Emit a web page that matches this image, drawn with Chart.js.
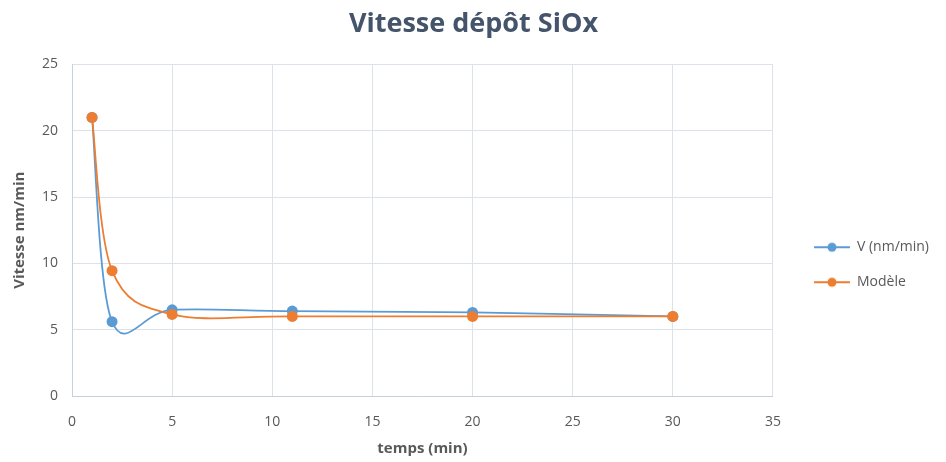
<!DOCTYPE html>
<html>
<head>
<meta charset="utf-8">
<script src="https://cdn.jsdelivr.net/npm/chart.js@4.4.1/dist/chart.umd.min.js"></script>
<style>
  html, body { margin: 0; padding: 0; background: #fff; }
  #wrap { width: 946px; height: 462px; position: relative; }
</style>
</head>
<body>
<div id="wrap"><canvas id="mainChart"></canvas></div>
<script>
const temps = [1, 2, 5, 11, 20, 30];
const vitesse = [21, 5.6, 6.5, 6.4, 6.3, 6.0];
const modele = [21, 9.45, 6.15, 6.0, 6.0, 6.0];
const xTicks = [0, 5, 10, 15, 20, 25, 30, 35];
const yTicks = [0, 5, 10, 15, 20, 25];

const BLUE = '#5b9bd5';
const ORANGE = '#ed7d31';
const TEXT = '#595959';
const GRID = '#dde2ea';

// line + dot like the Excel legend marker, with some blank space in front
const LEAD = 20;
function legendMarker(color) {
  const c = document.createElement('canvas');
  c.width = LEAD + 36; c.height = 12;
  const g = c.getContext('2d');
  g.strokeStyle = color;
  g.lineWidth = 2;
  g.beginPath(); g.moveTo(LEAD, 6); g.lineTo(LEAD + 36, 6); g.stroke();
  g.fillStyle = color;
  g.beginPath(); g.arc(LEAD + 18, 6, 4.5, 0, Math.PI * 2); g.fill();
  return c;
}

// Excel "smoothed line": Catmull-Rom style control points (1/6 of neighbour span)
const excelSmooth = {
  id: 'excelSmooth',
  beforeDatasetsDraw(chart) {
    chart.data.datasets.forEach((ds, i) => {
      const meta = chart.getDatasetMeta(i);
      meta.dataset.updateControlPoints(chart.chartArea, 'x');
      const pts = meta.data;
      pts.forEach((p, k) => {
        const prev = pts[k - 1] || p;
        const next = pts[k + 1] || p;
        const dx = (next.x - prev.x) / 6;
        const dy = (next.y - prev.y) / 6;
        p.cp1x = p.x - dx; p.cp1y = p.y - dy;
        p.cp2x = p.x + dx; p.cp2y = p.y + dy;
      });
    });
  }
};

const toPoints = ys => temps.map((t, i) => ({ x: t, y: ys[i] }));

const ctx = document.getElementById('mainChart').getContext('2d');
new Chart(ctx, {
  type: 'line',
  data: {
    datasets: [
      {
        label: 'V (nm/min)',
        data: toPoints(vitesse),
        borderColor: BLUE,
        backgroundColor: BLUE,
        borderWidth: 1.8,
        pointRadius: 5.5,
        pointBorderWidth: 0,
        tension: 0.3,
        order: 1,
        fill: false
      },
      {
        label: 'Modèle',
        data: toPoints(modele),
        borderColor: ORANGE,
        backgroundColor: ORANGE,
        borderWidth: 1.8,
        pointRadius: 5.5,
        pointBorderWidth: 0,
        tension: 0.3,
        order: 0,
        fill: false
      }
    ]
  },
  plugins: [excelSmooth],
  options: {
    responsive: true,
    maintainAspectRatio: false,
    animation: false,
    layout: { padding: { left: 8, right: 7, top: 0, bottom: 4 } },
    plugins: {
      title: {
        display: true,
        text: 'Vitesse dépôt SiOx',
        color: '#44546a',
        font: { family: 'Open Sans', size: 27, weight: 'bold' },
        padding: { top: 8, bottom: 24 }
      },
      legend: {
        position: 'right',
        align: 'center',
        title: { display: true, text: ' ', padding: { top: 0, bottom: 57 } },
        labels: {
          usePointStyle: true,
          pointStyleWidth: LEAD + 36,
          padding: 21,
          color: TEXT,
          font: { family: 'Open Sans', size: 14 },
          generateLabels: chart => chart.data.datasets.map((ds, i) => ({
            text: ds.label,
            pointStyle: legendMarker(ds.borderColor),
            fillStyle: ds.borderColor,
            strokeStyle: ds.borderColor,
            lineWidth: 0,
            hidden: false,
            datasetIndex: i,
            fontColor: TEXT
          }))
        }
      },
      tooltip: { enabled: false }
    },
    scales: {
      x: {
        type: 'linear',
        min: 0,
        max: 35,
        afterBuildTicks: axis => { axis.ticks = xTicks.map(v => ({ value: v })); },
        afterFit: axis => { axis.height = 62; },
        grid: { color: GRID, drawTicks: false },
        border: { color: '#c8d0dc' },
        ticks: { color: TEXT, padding: 18, font: { family: 'Open Sans', size: 14 } },
        title: {
          display: true,
          text: 'temps (min)',
          color: TEXT,
          font: { family: 'Open Sans', size: 15, weight: 'bold' },
          padding: { top: 0, bottom: 0 }
        }
      },
      y: {
        min: 0,
        max: 25,
        afterBuildTicks: axis => { axis.ticks = yTicks.map(v => ({ value: v })); },
        afterFit: axis => { axis.width = 64; },
        grid: { color: GRID, drawTicks: false },
        border: { color: '#c8d0dc' },
        ticks: { color: TEXT, padding: 14, font: { family: 'Open Sans', size: 14 } },
        title: {
          display: true,
          text: 'Vitesse nm/min',
          color: TEXT,
          font: { family: 'Open Sans', size: 15, weight: 'bold' },
          padding: { top: 3, bottom: 0 }
        }
      }
    }
  }
});
</script>
</body>
</html>
